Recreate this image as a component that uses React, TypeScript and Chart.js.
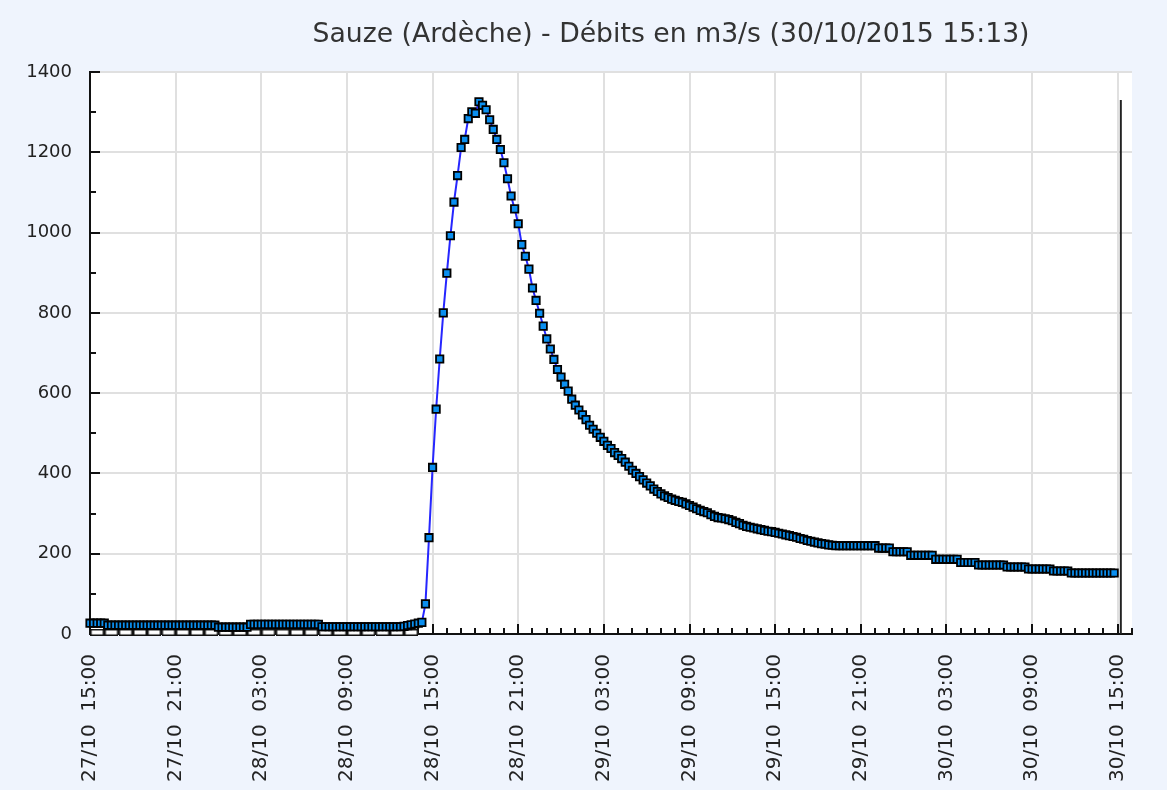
import React, { useEffect, useRef } from 'react';
import { Chart, registerables } from 'chart.js';

Chart.register(...registerables);

const TITLE = 'Sauze (Ardèche) - Débits en m3/s (30/10/2015 15:13)';

// x axis: hours counted from 27/10 15:00
const X_TICK_HOURS = [0, 6, 12, 18, 24, 30, 36, 42, 48, 54, 60, 66, 72];
const X_TICK_LABELS = [
  '27/10  15:00', '27/10  21:00', '28/10  03:00', '28/10  09:00', '28/10  15:00',
  '28/10  21:00', '29/10  03:00', '29/10  09:00', '29/10  15:00', '29/10  21:00',
  '30/10  03:00', '30/10  09:00', '30/10  15:00',
];
const X_MIN = 0;
const X_MAX = 73;
const X_MINOR_STEP = 1;

const Y_TICK_VALUES = [0, 200, 400, 600, 800, 1000, 1200, 1400];
const Y_TICK_LABELS = ['0', '200', '400', '600', '800', '1000', '1200', '1400'];
const Y_MINOR_STEP = 100;

// discharge readings (m3/s), one every 15 minutes from 27/10 15:00
const STEP_HOURS = 0.25;
const FLOW_BASE = [
  27, 27, 27, 27, 27,
  22, 22, 22, 22, 22, 22, 22, 22, 22, 22, 22, 22, 22, 22, 22, 22,
  22, 22, 22, 22, 22, 22, 22, 22, 22, 22, 22, 22, 22, 22, 22,
  17, 17, 17, 17, 17, 17, 17, 17, 17,
  24, 24, 24, 24, 24, 24, 24, 24, 24, 24, 24, 24, 24, 24, 24, 24, 24, 24, 24, 24,
  18, 18, 18, 18, 18, 18, 18, 18, 18, 18, 18, 18, 18, 18, 18, 18, 18, 18, 18, 18, 18, 18, 18,
  19, 21, 23, 25, 27, 29,
];
const FLOW_FLOOD = [
  75, 240, 415, 560, 685, 800, 899, 992, 1076, 1142, 1212, 1232, 1284, 1301, 1297, 1326,
  1317, 1306, 1281, 1257, 1232, 1207, 1174, 1134, 1091, 1059, 1022, 970, 941, 909,
  862, 831, 799, 767, 735, 710, 684, 659, 640, 622, 605, 585, 570, 558, 546, 534,
  520, 510, 500, 490, 480, 470, 462,
];
const FLOW_RECESSION = [
  452, 445, 437, 428, 418, 408, 400, 392, 384, 376, 369, 361, 355, 349, 344, 340,
  336, 333, 330, 328, 324, 320, 316, 312, 308, 305, 302, 297, 293, 290, 289, 287,
  285, 282, 278, 275, 271, 268, 266, 264, 262, 260, 258, 256, 255, 253, 251, 249,
  247, 245, 243, 241, 238, 236, 233, 231, 229, 227, 225, 224, 222, 221, 220,
];
const FLOW_TAIL = [
  220, 220, 220, 220, 220, 220, 220, 220, 220, 220, 220,
  214, 214, 214, 214,
  205, 205, 205, 205, 205,
  196, 196, 196, 196, 196, 196, 196,
  186, 186, 186, 186, 186, 186, 186,
  178, 178, 178, 178, 178,
  172, 172, 172, 172, 172, 172, 172, 172,
  167, 167, 167, 167, 167, 167,
  162, 162, 162, 162, 162, 162, 162,
  157, 157, 157, 157, 157,
  152, 152, 152, 152, 152, 152, 152, 152, 152, 152, 152, 152, 152,
];
const FLOW = [...FLOW_BASE, ...FLOW_FLOOD, ...FLOW_RECESSION, ...FLOW_TAIL];

// hourly marks along the bottom before the flood
const HOURLY_MARK_HOURS = [
  0.5, 1.5, 2.5, 3.5, 4.5, 5.5, 6.5, 7.5, 8.5, 9.5, 10.5, 11.5,
  12.5, 13.5, 14.5, 15.5, 16.5, 17.5, 18.5, 19.5, 20.5, 21.5, 22.5,
];
const HOURLY_MARK_VALUE = 4;

// vertical line at the time of the bulletin (30/10 15:13)
const NOW_HOUR = 72 + 13 / 60;
const NOW_LINE_VALUES = [0, 1330];

const BG = '#eff4fd';
const FONT = '"DejaVu Sans", Verdana, sans-serif';

export default function App() {
  const ref = useRef<HTMLCanvasElement | null>(null);

  useEffect(() => {
    const canvas = ref.current;
    if (!canvas) return;

    const box = document.createElement('canvas');
    box.width = 14;
    box.height = 7;
    const bctx = box.getContext('2d')!;
    bctx.fillStyle = '#ffffff';
    bctx.fillRect(0, 0, 14, 7);
    bctx.strokeStyle = '#111';
    bctx.lineWidth = 1.5;
    bctx.strokeRect(0.75, 0.75, 12.5, 5.5);

    const framePlugin = {
      id: 'frame',
      beforeDraw(chart: any) {
        const { ctx, chartArea: a, width, height } = chart;
        ctx.save();
        ctx.fillStyle = BG;
        ctx.fillRect(0, 0, width, height);
        ctx.fillStyle = '#ffffff';
        ctx.fillRect(a.left, a.top, a.right - a.left, a.bottom - a.top);
        ctx.restore();
      },
      beforeDatasetsDraw(chart: any) {
        const { ctx, chartArea: a, scales } = chart;
        const x = scales.x;
        const y = scales.y;
        ctx.save();
        ctx.strokeStyle = '#111';
        ctx.lineWidth = 2;
        ctx.beginPath();
        for (let h = X_MIN; h <= X_MAX; h += X_MINOR_STEP) {
          const px = Math.round(x.getPixelForValue(h));
          const len = X_TICK_HOURS.includes(h) ? 10 : 6;
          ctx.moveTo(px, a.bottom);
          ctx.lineTo(px, a.bottom - len);
        }
        for (let v = 0; v <= 1400; v += Y_MINOR_STEP) {
          const py = Math.round(y.getPixelForValue(v));
          const len = Y_TICK_VALUES.includes(v) ? 10 : 6;
          ctx.moveTo(a.left, py);
          ctx.lineTo(a.left + len, py);
        }
        ctx.stroke();
        ctx.restore();
      },
      afterDraw(chart: any) {
        const { ctx } = chart;
        ctx.save();
        ctx.fillStyle = '#333';
        ctx.font = `26.7px ${FONT}`;
        ctx.textAlign = 'center';
        ctx.textBaseline = 'alphabetic';
        ctx.fillText(TITLE, 671, 42);
        ctx.restore();
      },
    };

    const chart = new Chart(canvas, {
      type: 'line',
      data: {
        datasets: [
          {
            label: 'Débits',
            data: FLOW.map((v, i) => ({ x: i * STEP_HOURS, y: v })),
            borderColor: '#2626ff',
            borderWidth: 2,
            pointStyle: 'rect',
            pointRadius: 5.2,
            pointBackgroundColor: '#0a8ff0',
            pointBorderColor: '#000',
            pointBorderWidth: 1.8,
            tension: 0,
            clip: false,
            order: 0,
          } as any,
          {
            label: 'heures',
            data: HOURLY_MARK_HOURS.map((h) => ({ x: h, y: HOURLY_MARK_VALUE })),
            showLine: false,
            pointStyle: box as any,
            pointRadius: 4,
            clip: false,
            order: 2,
          } as any,
          {
            label: 'maintenant',
            data: NOW_LINE_VALUES.map((v) => ({ x: NOW_HOUR, y: v })),
            borderColor: '#222',
            borderWidth: 2,
            pointRadius: 0,
            clip: false,
            order: 1,
          } as any,
        ],
      },
      options: {
        animation: false,
        responsive: false,
        devicePixelRatio: 1,
        layout: { padding: { top: 72, right: 35, left: 0, bottom: 0 } },
        plugins: {
          legend: { display: false },
          tooltip: { enabled: false },
          title: { display: false },
        },
        scales: {
          x: {
            type: 'linear',
            min: X_MIN,
            max: X_MAX,
            afterBuildTicks: (s: any) => {
              s.ticks = X_TICK_HOURS.map((h) => ({ value: h }));
            },
            afterFit: (s: any) => {
              s.height = 156;
            },
            grid: { color: '#e0e0e0', lineWidth: 2, drawTicks: false },
            border: { color: '#111', width: 2 },
            ticks: {
              autoSkip: false,
              minRotation: 90,
              maxRotation: 90,
              padding: 20,
              color: '#222',
              font: { family: FONT, size: 20 },
              callback: (_v: any, i: number) => X_TICK_LABELS[i],
            },
          },
          y: {
            type: 'linear',
            min: 0,
            max: 1400,
            afterBuildTicks: (s: any) => {
              s.ticks = Y_TICK_VALUES.map((v) => ({ value: v }));
            },
            afterFit: (s: any) => {
              s.width = 90;
            },
            grid: { color: '#e0e0e0', lineWidth: 2, drawTicks: false },
            border: { color: '#111', width: 2 },
            ticks: {
              padding: 18,
              color: '#222',
              font: { family: FONT, size: 18 },
              callback: (_v: any, i: number) => Y_TICK_LABELS[i],
            },
          },
        },
      } as any,
      plugins: [framePlugin],
    });

    return () => chart.destroy();
  }, []);

  return (
    <div
      style={{
        position: 'fixed',
        left: 0,
        top: 0,
        width: 1167,
        height: 790,
        overflow: 'hidden',
        background: BG,
      }}
    >
      <canvas ref={ref} width={1167} height={790} style={{ display: 'block' }} />
    </div>
  );
}
